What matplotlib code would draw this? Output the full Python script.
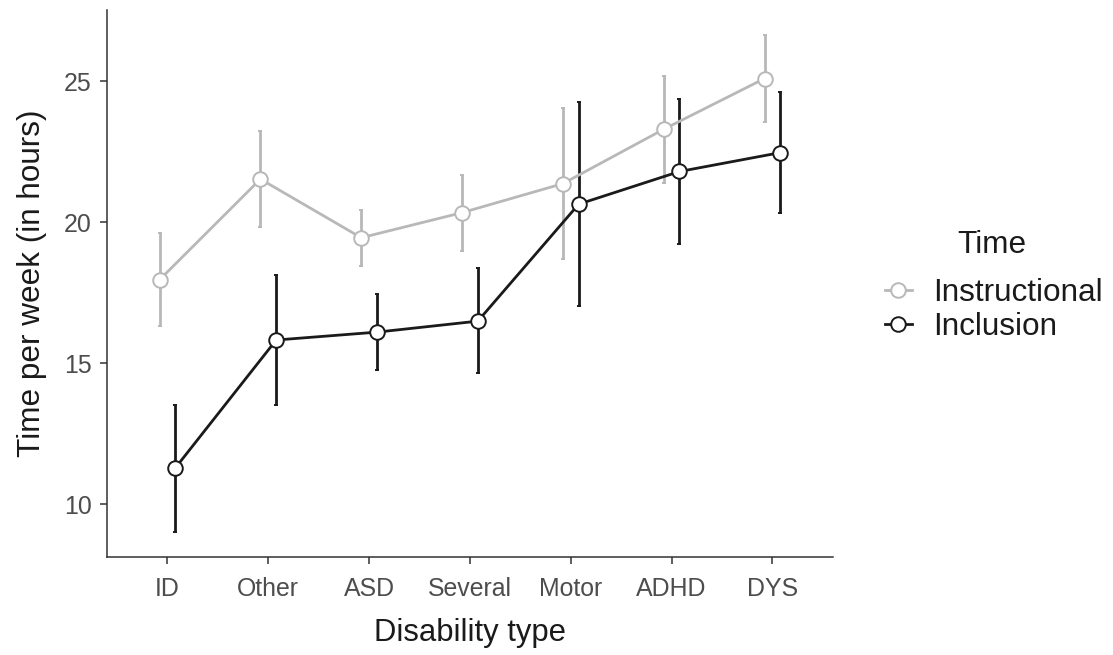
import matplotlib
matplotlib.use("Agg")
import matplotlib.pyplot as plt
from matplotlib.lines import Line2D
import numpy as np

plt.rcParams['font.family'] = ['Liberation Sans', 'DejaVu Sans']

# data
categories = ["ID", "Other", "ASD", "Several", "Motor", "ADHD", "DYS"]

instr_mean = [17.96, 21.53, 19.45, 20.34, 21.37, 23.30, 25.10]
instr_low = [16.31, 19.83, 18.45, 18.97, 18.69, 21.39, 23.54]
instr_high = [19.61, 23.23, 20.44, 21.68, 24.04, 25.19, 26.66]

incl_mean = [11.28, 15.82, 16.10, 16.49, 20.64, 21.80, 22.47]
incl_low = [9.02, 13.53, 14.76, 14.66, 17.02, 19.24, 20.34]
incl_high = [13.51, 18.11, 17.45, 18.36, 24.25, 24.37, 24.61]

series = [
    ("Instructional", instr_mean, instr_low, instr_high, "#b8b8b8", -0.078),
    ("Inclusion", incl_mean, incl_low, incl_high, "#1a1a1a", 0.078),
]

fig = plt.figure(figsize=(11.13, 6.55), dpi=100)
ax = fig.add_axes([0.0961, 0.1496, 0.6523, 0.8351])

x = np.arange(len(categories))
handles = []
for name, m, lo, hi, col, off in series:
    m = np.array(m)
    yerr = [m - np.array(lo), np.array(hi) - m]
    ax.errorbar(x + off, m, yerr=yerr, color=col, lw=2.0, elinewidth=2.0,
                capsize=1.5, capthick=2.0, marker="o", ms=10.5,
                mfc="white", mec=col, mew=1.4)
    handles.append(Line2D([], [], color=col, lw=2.0, marker="o", ms=10.5,
                          mfc="white", mec=col, mew=1.4, label=name))

ax.set_xlim(-0.6, 6.6)
ax.set_ylim(8.12, 27.53)
ax.set_xticks(x)
ax.set_xticklabels(categories)
ax.set_yticks([10, 15, 20, 25])

for s in ["top", "right"]:
    ax.spines[s].set_visible(False)
for s in ["left", "bottom"]:
    ax.spines[s].set_color("#333333")
    ax.spines[s].set_linewidth(1.1)
ax.tick_params(axis="both", colors="#333333", length=5, width=1.1,
               labelsize=17.9, labelcolor="#4d4d4d", pad=6)
ax.tick_params(axis="x", pad=9.3)

ax.set_xlabel("Disability type", fontsize=22.3, color="#1a1a1a", labelpad=12.2)
ax.set_ylabel("Time per week (in hours)", fontsize=22.7, color="#1a1a1a", labelpad=12)

leg = fig.legend(handles=handles, loc="center left", bbox_to_anchor=(0.7807, 0.527),
                 frameon=False, fontsize=22.7, borderpad=0,
                 handlelength=0.86, handletextpad=0.67, labelspacing=0.13)
for t in leg.get_texts():
    t.set_color("#1a1a1a")
fig.text(992 / 1113, 1 - 253 / 655, "Time", fontsize=22.7, color="#1a1a1a",
         ha="center", va="baseline")

fig.savefig("out.png", dpi=100)
